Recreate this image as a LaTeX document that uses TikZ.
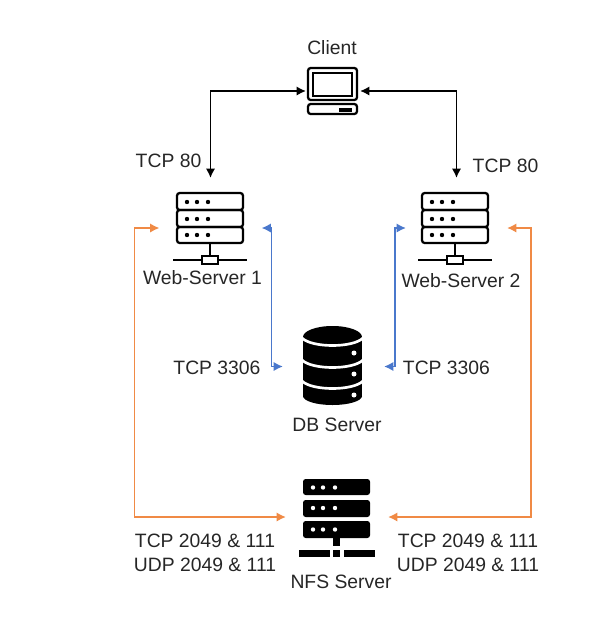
\documentclass[tikz,border=0pt]{standalone}
\usepackage{fontspec}
\setmainfont{Liberation Sans}
\usepackage{xcolor}
\usetikzlibrary{positioning,arrows.meta,calc}
\definecolor{netOrange}{HTML}{F08A45}
\definecolor{netBlue}{HTML}{4A78CC}
\definecolor{netText}{HTML}{262626}
\tikzset{
  hub/.style={inner sep=0pt,outer sep=0pt,minimum width=76.5pt,minimum height=75pt},
  faintlabel/.style={font=\fontsize{14.5}{18}\selectfont,text=netText,align=center,inner sep=0pt},
  link/.style={<->,>={Latex[length=7pt,width=7pt]},line width=1.4pt},
  blacklink/.style={link,draw=black},
  bluelink/.style={link,draw=netBlue},
  orangelink/.style={link,draw=netOrange},
  outline/.style={draw=black,line width=1.7pt,rounded corners=2pt},
  solid bar/.style={fill=black,rounded corners=2pt}
}
\begin{document}
\begin{tikzpicture}[x=0.75pt,y=-0.75pt]
  \useasboundingbox (0,0) rectangle (611,626);

  % anchors for the connectors
  \node[hub,minimum width=40.5pt,minimum height=30pt] (client) at (333,91) {};
  \node[hub] (web1) at (210.5,228) {};
  \node[hub,minimum width=75.75pt] (web2) at (456.5,228) {};
  \node[hub,minimum width=75.75pt] (db) at (333.5,366.5) {};
  \node[hub] (nfs) at (337,517) {};

  % client
  \draw[outline] (308,68) rectangle (357,100);
  \draw[draw=black,line width=1.4pt] (313,73) rectangle (352,96);
  \draw[outline] (308,104) rectangle (357,114);
  \fill (339,107.5) rectangle (352,111.5);

  % web servers
  \foreach \cx in {210,455} {
    \draw[outline] (\cx-33,193) rectangle (\cx+33,210);
    \draw[outline] (\cx-33,210) rectangle (\cx+33,227);
    \draw[outline] (\cx-33,227) rectangle (\cx+33,243);
    \foreach \cy in {202,219,235} {
      \foreach \dx in {-23,-13,-2} {
        \fill (\cx+\dx,\cy) circle [radius=2.2];
      }
    }
    \draw[line width=1.7pt] (\cx,243) -- (\cx,256);
    \draw[line width=1.7pt] (\cx-37,260) -- (\cx-8,260);
    \draw[line width=1.7pt] (\cx+8,260) -- (\cx+37,260);
    \draw[line width=1.7pt] (\cx-8,256) rectangle (\cx+8,264);
  }

  % db server
  \fill (332.5,337) ellipse [x radius=29.5,y radius=11];
  \fill (303,337) rectangle (362,396);
  \fill (332.5,396) ellipse [x radius=29.5,y radius=9];
  \foreach \cy in {338,360,381} {
    \draw[white,line width=2pt] (302,\cy) .. controls (312,\cy+10) and (353,\cy+10) .. (363,\cy);
  }
  \foreach \cy in {353,374,395} {
    \fill[white] (354,\cy) circle [radius=2.5];
  }

  % nfs server
  \fill[solid bar] (303,479) rectangle (370,495);
  \fill[solid bar] (303,500) rectangle (370,517);
  \fill[solid bar] (303,521) rectangle (370,538);
  \foreach \cy in {487.5,508,529.5} {
    \foreach \cx in {313,323,335} {
      \fill[white] (\cx,\cy) circle [radius=2.2];
    }
  }
  \fill (333,538) rectangle (340,546);
  \fill (299,550) rectangle (330,557);
  \fill (333,550) rectangle (340,557);
  \fill (344,550) rectangle (375,557);

  % labels
  \node[faintlabel] (clientlabel) at (332,48) {Client};
  \node[faintlabel] (web1label) at (202.5,278) {Web-Server 1};
  \node[faintlabel] (web2label) at (461,281) {Web-Server 2};
  \node[faintlabel] (dblabel) at (337,425) {DB Server};
  \node[faintlabel] (nfslabel) at (341,582) {NFS Server};
  \node[faintlabel] (http1) at (168.5,161) {TCP 80};
  \node[faintlabel] (http2) at (505.5,166) {TCP 80};
  \node[faintlabel] (mysql1) at (217,368) {TCP 3306};
  \node[faintlabel] (mysql2) at (446.5,368) {TCP 3306};
  \node[faintlabel] (ports1) at (205,553) {TCP 2049 \& 111\\UDP 2049 \& 111};
  \node[faintlabel] (ports2) at (468,553) {TCP 2049 \& 111\\UDP 2049 \& 111};

  % connectors
  \draw[blacklink] (client.west) -| (web1.north);
  \draw[blacklink] (client.east) -| (web2.north);
  \draw[bluelink] (web1.east) -- ++(10,0) |- (db.west);
  \draw[bluelink] (web2.west) -- ++(-11,0) |- (db.east);
  \draw[orangelink] (web1.west) -- ++(-25,0) |- (nfs.west);
  \draw[orangelink] (web2.east) -- ++(24,0) |- (nfs.east);
\end{tikzpicture}
\end{document}
